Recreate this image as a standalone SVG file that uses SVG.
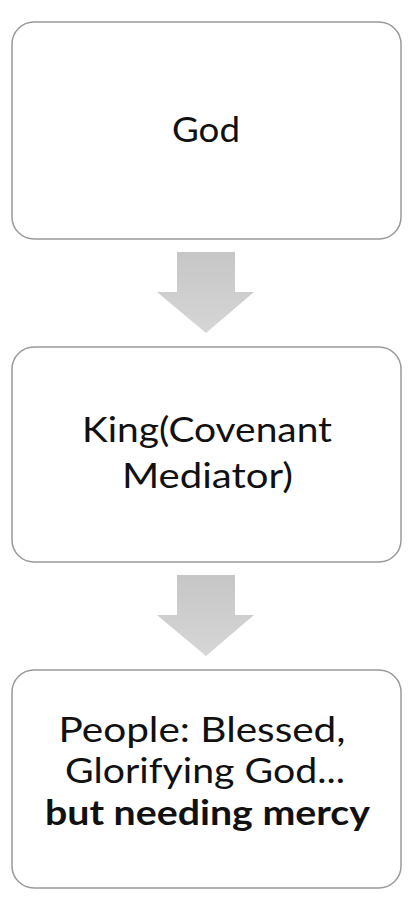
<svg xmlns="http://www.w3.org/2000/svg" width="409" height="898" viewBox="0 0 409 898">
<style>
.box{fill:#ffffff;stroke:#9a9a9a;stroke-width:1.5}
.t{font-family:Lato,"Open Sans",sans-serif;font-size:34px;fill:#111111;text-anchor:middle}
.b{font-weight:bold}
.arr{fill:url(#g)}
</style>
<defs>
<linearGradient id="g" x1="0" y1="0" x2="0" y2="1">
<stop offset="0" stop-color="#c6c6c6"/>
<stop offset="1" stop-color="#d6d6d6"/>
</linearGradient>
</defs>
<g id="connectors">
<path class="arr" d="M177,252 H235 V292 H254 L206,333 L157,292 H177 Z"/>
<path class="arr" d="M177,575 H235 V615 H254 L206,656 L157,615 H177 Z"/>
</g>
<g id="god">
<rect class="box" x="12" y="22" width="389" height="217" rx="22"/>
<text class="t" x="206" y="142" textLength="68" lengthAdjust="spacingAndGlyphs">God</text>
</g>
<g id="king">
<rect class="box" x="12" y="347" width="389" height="215" rx="22"/>
<text class="t" x="207" y="442" textLength="250" lengthAdjust="spacingAndGlyphs">King(Covenant</text>
<text class="t" x="207.5" y="488" textLength="171" lengthAdjust="spacingAndGlyphs">Mediator)</text>
</g>
<g id="people">
<rect class="box" x="12" y="670" width="389" height="218" rx="22"/>
<text class="t" x="202" y="742" textLength="287" lengthAdjust="spacingAndGlyphs">People: Blessed,</text>
<text class="t" x="205" y="783" textLength="280" lengthAdjust="spacingAndGlyphs">Glorifying God...</text>
<text class="t b" x="207.5" y="825" textLength="325" lengthAdjust="spacingAndGlyphs">but needing mercy</text>
</g>
</svg>
